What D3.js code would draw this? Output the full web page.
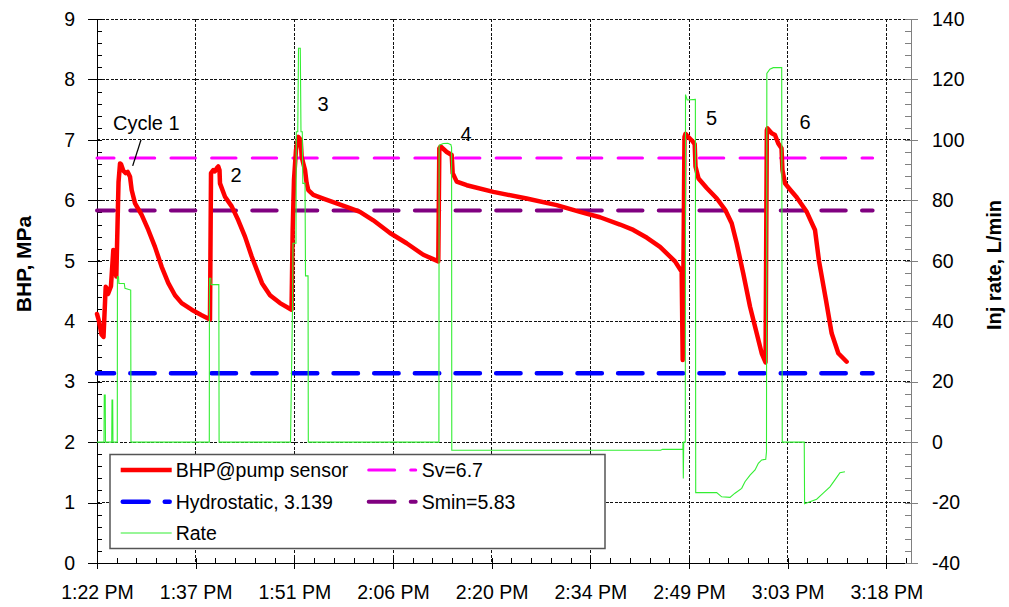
<!DOCTYPE html>
<html>
<head>
<meta charset="utf-8">
<script src="https://cdn.jsdelivr.net/npm/d3@7"></script>
<style>
body { margin: 0; background: #fff; }
</style>
</head>
<body>
<div id="chart"></div>
<script>
// times are minutes after 1:00 PM
var xTickTimes = [22.8, 37.2, 51.6, 66.0, 80.4, 94.8, 109.2, 123.6, 138.0];
var xTickLabels = ["1:22 PM", "1:37 PM", "1:51 PM", "2:06 PM", "2:20 PM", "2:34 PM", "2:49 PM", "3:03 PM", "3:18 PM"];
var bhpTicks = [0, 1, 2, 3, 4, 5, 6, 7, 8, 9];
var rateTicks = [-40, -20, 0, 20, 40, 60, 80, 100, 120, 140];

// BHP@pump sensor, MPa  [time, value]
var bhpData = [
  [22.80,4.12],[23.09,4.00],[23.46,3.78],[23.75,3.74],[24.07,4.57],[24.41,4.45],[24.84,4.58],[25.18,5.18],
  [25.35,4.95],[25.62,4.74],[25.94,6.30],[26.16,6.61],[26.30,6.60],[26.64,6.49],[26.99,6.45],[27.28,6.47],
  [27.62,6.39],[27.86,6.17],[28.35,5.95],[29.32,5.76],[30.29,5.51],[31.26,5.23],[32.24,4.90],[33.21,4.63],
  [34.18,4.43],[35.16,4.30],[36.62,4.19],[38.08,4.10],[39.29,4.03],
  [39.44,6.45],[39.77,6.50],[40.02,6.48],[40.27,6.53],[40.50,6.56],[40.68,6.50],[40.75,6.28],[41.48,6.06],
  [42.46,5.90],[43.42,5.67],[44.40,5.40],[45.38,5.07],[46.88,4.63],[48.05,4.43],[49.51,4.30],[51.19,4.19],
  [51.36,5.51],[51.55,6.34],[51.84,6.83],[52.18,7.05],[52.53,7.00],[52.67,6.72],[52.91,6.61],[53.16,6.50],
  [53.40,6.28],[53.64,6.17],[54.37,6.09],[55.83,6.03],[57.78,5.95],[59.72,5.87],[61.18,5.81],[63.12,5.67],
  [65.56,5.46],[67.99,5.29],[70.42,5.10],[72.61,4.99],
  [72.76,6.86],[72.96,6.89],[73.84,6.80],[74.57,6.75],[74.71,6.45],[75.30,6.31],[76.76,6.25],[80.64,6.14],
  [85.51,6.03],[89.89,5.92],[93.29,5.81],[96.21,5.72],[99.13,5.60],[101.07,5.51],[103.07,5.38],[104.97,5.23],
  [107.16,4.99],[108.13,4.82],[108.28,3.36],
  [108.54,7.05],[108.69,7.10],[109.08,7.05],[109.62,6.99],[110.03,6.93],[110.15,6.56],[110.59,6.36],[111.82,6.20],
  [113.26,6.03],[114.50,5.84],[115.43,5.62],[116.16,5.29],[117.12,4.79],[118.11,4.24],[119.08,3.80],[119.81,3.47],
  [120.37,3.32],
  [120.56,7.16],[120.66,7.19],[121.27,7.11],[121.75,7.08],[122.23,6.94],[122.70,6.86],[122.84,6.50],[123.21,6.28],
  [123.94,6.18],[124.91,6.05],[126.38,5.81],[127.59,5.51],[128.17,5.00],[129.19,4.35],[130.02,3.80],[130.99,3.47],
  [132.21,3.33]
];

// Inj rate, L/min  [time, value]
var rateData = [
  [22.80,0],[23.82,0],[23.86,15.6],[24.00,15.6],[24.04,0],[24.95,0],[24.99,13.9],[25.09,13.9],[25.13,0],
  [25.76,0],[25.78,54.7],[25.94,54.7],[26.00,52.5],[26.78,52.5],[26.88,50.9],[27.72,50.3],[27.76,0],
  [39.19,0],[39.21,54.2],[39.40,54.2],[39.45,52.1],[40.58,52.1],[40.62,0],
  [51.04,0],[51.33,44],[51.40,65.8],[51.84,65.8],[51.89,102.7],[52.10,102.7],[52.21,130.3],[52.47,130.3],
  [52.57,102.7],[52.76,102.7],[52.84,85.6],[53.16,85.6],[53.23,55],[53.60,55],[53.64,0],
  [72.70,0],[72.73,98.2],[73.00,98.5],[73.34,98.8],[74.00,98.9],[74.45,98.4],[74.55,97.5],[74.58,-2.7],
  [105.05,-2.7],[105.34,-2.4],[108.30,-2.4],[108.33,0],[108.37,-12],[108.43,0],[108.66,0],[108.69,115],
  [108.94,113.2],[110.13,113.4],[110.18,-16.7],[113.24,-16.7],[113.97,-18.1],[115.18,-18.3],[115.91,-16.9],
  [116.89,-15.3],[117.37,-13.1],[118.11,-10.9],[118.84,-9.2],[119.32,-7.0],[119.81,-5.9],[120.40,-5.7],
  [120.51,-3.1],[120.56,122],[121.00,123.4],[121.50,123.9],[122.73,123.9],[122.81,0],
  [126.02,0],[126.07,-20.4],[126.85,-19.7],[127.83,-18.9],[128.79,-16.9],[129.77,-14.8],[130.50,-12.5],
  [131.23,-10.1],[131.96,-9.8]
];

// constant reference levels, MPa
var hydrostatic = 3.139;
var sv = 6.7;
var smin = 5.83;
var refSpan = [22.8, 136.0];

var cycleLabels = ["Cycle 1", "2", "3", "4", "5", "6"];
var legendLabels = ["BHP@pump sensor", "Sv=6.7", "Hydrostatic, 3.139", "Smin=5.83", "Rate"];

var FONT = "'Liberation Sans', Arial, Helvetica, sans-serif";

var svg = d3.select("#chart").append("svg")
  .attr("width", 1009).attr("height", 607)
  .style("font-family", FONT);

var x = d3.scaleLinear().domain([22.8, 141.6]).range([97, 911]);
var yL = d3.scaleLinear().domain([0, 9]).range([563, 19]);
var yR = d3.scaleLinear().domain([-40, 140]).range([563, 19]);

// grid
var grid = svg.append("g")
  .attr("stroke", "#111").attr("stroke-width", 1)
  .attr("stroke-dasharray", "3,1.5").attr("shape-rendering", "crispEdges");
grid.selectAll(".hg").data(bhpTicks.filter(function(d){ return d > 0; }))
  .enter().append("line")
  .attr("x1", 97).attr("x2", 911)
  .attr("y1", function(d){ return yL(d); }).attr("y2", function(d){ return yL(d); });
grid.selectAll(".vg").data(xTickTimes.slice(1))
  .enter().append("line")
  .attr("y1", 19).attr("y2", 563)
  .attr("x1", function(d){ return x(d); }).attr("x2", function(d){ return x(d); });

// axes
function styleAxis(g, size) {
  g.attr("font-size", size).attr("font-family", FONT);
  g.selectAll("line").attr("shape-rendering", "crispEdges");
  g.select(".domain").attr("shape-rendering", "crispEdges");
}

var leftAxis = svg.append("g").attr("transform", "translate(97,0)")
  .call(d3.axisLeft(yL).tickValues(bhpTicks).tickSize(9).tickSizeOuter(0).tickPadding(13)
    .tickFormat(function(d){ return String(d); }));
styleAxis(leftAxis, 19.5);

var leftMinor = svg.append("g").attr("transform", "translate(97,0)")
  .call(d3.axisLeft(yL).tickValues(d3.range(0, 9.001, 0.2)).tickSize(-5).tickSizeOuter(0).tickFormat(""));
leftMinor.select(".domain").remove();
styleAxis(leftMinor, 10);

var bottomAxis = svg.append("g").attr("transform", "translate(0,563)")
  .call(d3.axisBottom(x).tickValues(xTickTimes).tickSize(6).tickSizeOuter(0).tickPadding(16)
    .tickFormat(function(d, i){ return xTickLabels[i]; }));
styleAxis(bottomAxis, 19.5);

var bottomMinor = svg.append("g").attr("transform", "translate(0,563)")
  .call(d3.axisBottom(x).tickValues(d3.range(22.8, 141.6, 2.88)).tickSize(-5).tickSizeOuter(0).tickFormat(""));
bottomMinor.select(".domain").remove();
styleAxis(bottomMinor, 10);

var rightAxis = svg.append("g").attr("transform", "translate(911,0)")
  .call(d3.axisRight(yR).tickValues(rateTicks).tickSize(7).tickSizeOuter(0).tickPadding(14)
    .tickFormat(function(d){ return String(d); }));
styleAxis(rightAxis, 19.5);
rightAxis.select(".domain").attr("stroke", "#808080").attr("stroke-width", 1.5);
rightAxis.selectAll(".tick line").attr("stroke", "#808080");

var rightMinor = svg.append("g").attr("transform", "translate(911,0)")
  .call(d3.axisRight(yR).tickValues(d3.range(-40, 140.01, 4)).tickSize(-6).tickSizeOuter(0).tickFormat(""));
rightMinor.select(".domain").remove();
rightMinor.selectAll("line").attr("stroke", "#808080");
styleAxis(rightMinor, 10);

// axis titles
svg.append("text")
  .attr("transform", "translate(31,264) rotate(-90)")
  .attr("text-anchor", "middle").attr("font-weight", "bold").attr("font-size", 21)
  .text("BHP, MPa");
svg.append("text")
  .attr("transform", "translate(1001,265) rotate(-90)")
  .attr("text-anchor", "middle").attr("font-weight", "bold").attr("font-size", 20)
  .text("Inj rate, L/min");

// reference levels
var refDash = "24.4,16.25";
[[hydrostatic, "#0000ff", 4.5], [sv, "#ff00ff", 3], [smin, "#800080", 4]].forEach(function(r) {
  svg.append("line")
    .attr("x1", x(refSpan[0])).attr("x2", x(refSpan[1]))
    .attr("y1", yL(r[0])).attr("y2", yL(r[0]))
    .attr("stroke", r[1]).attr("stroke-width", r[2])
    .attr("stroke-linecap", "round")
    .attr("stroke-dasharray", refDash).attr("stroke-dashoffset", 7.35);
});

// BHP
var bhpLine = d3.line().x(function(d){ return x(d[0]); }).y(function(d){ return yL(d[1]); });
svg.append("path").datum(bhpData)
  .attr("d", bhpLine)
  .attr("fill", "none").attr("stroke", "#ff0000").attr("stroke-width", 4.5)
  .attr("stroke-linejoin", "round").attr("stroke-linecap", "round");

// Rate (secondary axis)
var rateLine = d3.line().x(function(d){ return x(d[0]); }).y(function(d){ return yR(d[1]); });
svg.append("path").datum(rateData)
  .attr("d", rateLine)
  .attr("fill", "none").attr("stroke", "#33ee33").attr("stroke-width", 1.1);

// cycle annotations
var cyclePos = [[30.0, 7.16], [43.09, 6.30], [55.78, 7.48], [76.65, 6.98], [112.48, 7.25], [126.13, 7.18]];
svg.selectAll(".cyc").data(cycleLabels).enter().append("text")
  .attr("x", function(d, i){ return x(cyclePos[i][0]); })
  .attr("y", function(d, i){ return yL(cyclePos[i][1]); })
  .attr("text-anchor", "middle").attr("font-size", 20).attr("fill", "#000")
  .text(function(d){ return d; });
svg.append("line")
  .attr("x1", x(29.22)).attr("y1", yL(7.0))
  .attr("x2", x(28.01)).attr("y2", yL(6.57))
  .attr("stroke", "#000").attr("stroke-width", 1.3);

// legend
var legend = svg.append("g");
legend.append("rect")
  .attr("x", 110).attr("y", 454.5).attr("width", 495).attr("height", 94)
  .attr("fill", "#fff").attr("stroke", "#555").attr("stroke-width", 1.5);
var legendStyle = [
  {col: 0, row: 0, color: "#ff0000", w: 4.5, dash: null},
  {col: 1, row: 0, color: "#ff00ff", w: 3, dash: "26,16"},
  {col: 0, row: 1, color: "#0000ff", w: 4.5, dash: "26,16"},
  {col: 1, row: 1, color: "#800080", w: 4, dash: "26,16"},
  {col: 0, row: 2, color: "#33ee33", w: 1.1, dash: null}
];
var colX = [120.7, 366.7], rowY = [470, 501.7, 533];
legendLabels.forEach(function(lab, i) {
  var s = legendStyle[i];
  var lx = colX[s.col], ly = rowY[s.row];
  var ln = legend.append("line")
    .attr("x1", lx + (s.dash ? 2 : 0)).attr("x2", lx + 51 - (s.dash ? 2 : 0))
    .attr("y1", ly).attr("y2", ly)
    .attr("stroke", s.color).attr("stroke-width", s.w);
  if (s.dash) ln.attr("stroke-dasharray", s.dash).attr("stroke-linecap", "round");
  legend.append("text")
    .attr("x", lx + 55).attr("y", ly + 7)
    .attr("font-size", 19.5).attr("fill", "#000")
    .text(lab);
});
</script>
</body>
</html>
